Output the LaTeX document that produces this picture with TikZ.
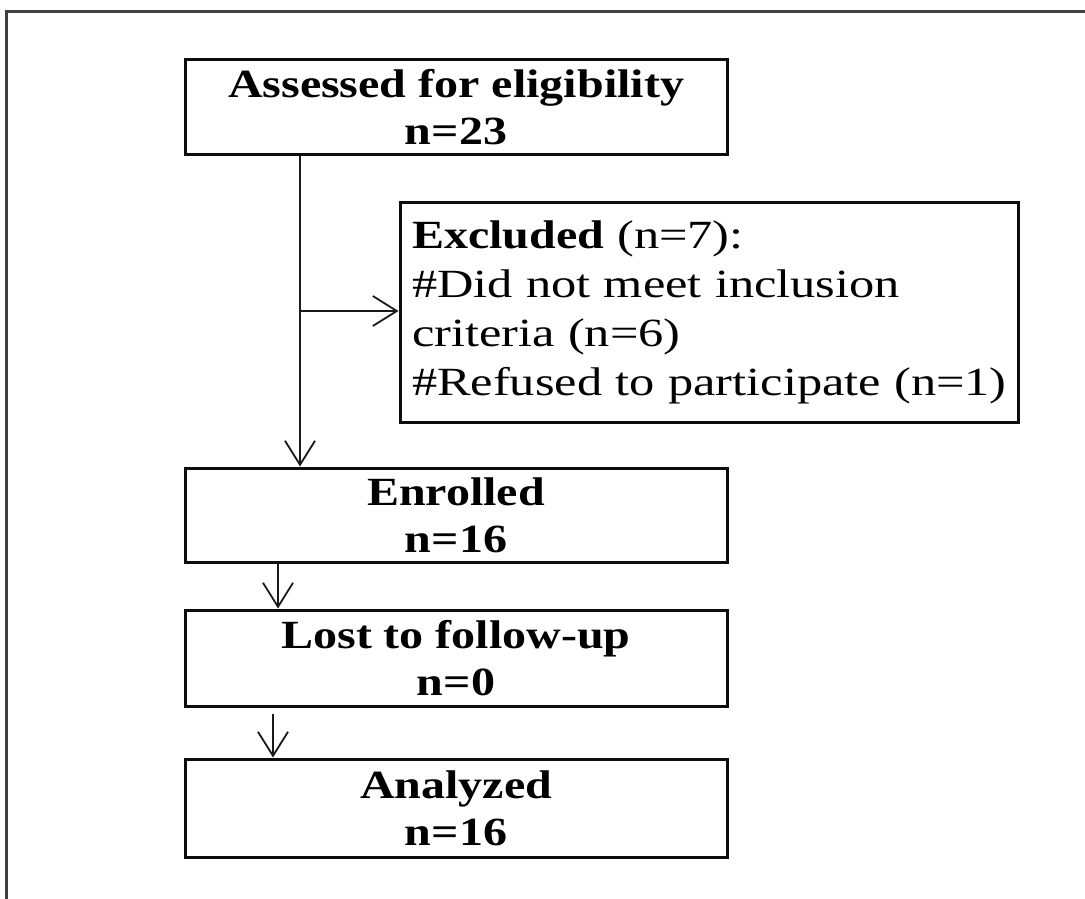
\documentclass[tikz,border=0pt]{standalone}
\usepackage{fontspec}
\setmainfont{Liberation Serif}[FakeStretch=1.2]
\newfontfamily\exclfont{Liberation Serif}[FakeStretch=1.26, BoldFeatures={FakeStretch=1.2}]
\usetikzlibrary{shapes, arrows.meta, calc, positioning}

\begin{document}
\begin{tikzpicture}[x=0.5pt, y=-0.5pt,
    flowbox/.style={draw=black!95, line width=1.5pt, rectangle, inner sep=3pt,
                    minimum width=271pt, align=center,
                    font=\fontsize{20}{23.5}\selectfont\bfseries},
    arr/.style={draw=black!90, line width=0.9pt, -{Straight Barb[length=12pt, width=15pt, line width=0.9pt]}}]
\useasboundingbox (0,0) rectangle (1085,898);
\begin{scope}
\clip (0,0) rectangle (1085,898);
\draw[black!75, line width=1.5pt] (6,12) rectangle (1100,920);
\end{scope}

\node[flowbox, minimum height=47.5pt] (assessed) at (456,107.5) {Assessed for eligibility\\n=23};
\node[flowbox, minimum width=309pt, minimum height=109.5pt, text width=297pt, align=left,
      inner sep=6pt, font=\fontsize{20}{24.4}\selectfont\exclfont] (excluded) at (709,312.5)
      {\mbox{\textbf{Excluded} (n=7):}\\\mbox{\#Did not meet inclusion}\\\mbox{criteria (n=6)}\\\mbox{\#Refused to participate (n=1)}};
\node[flowbox, minimum height=47pt] (enrolled) at (456,515) {Enrolled\\n=16};
\node[flowbox, minimum height=48pt] (lost) at (456,658) {Lost to follow-up\\n=0};
\node[flowbox, minimum height=49pt] (analyzed) at (456,808) {Analyzed\\n=16};

\coordinate (split) at (300,311);
\coordinate (e2l) at (278,0);
\coordinate (l2a) at (273,0);

\draw[arr] (assessed.south -| split) -- (enrolled.north -| split);
\draw[arr] (split) -- (split -| excluded.west);
\draw[arr] (enrolled.south -| e2l) -- (lost.north -| e2l);
\draw[arr, shorten <=3pt] (lost.south -| l2a) -- (analyzed.north -| l2a);
\end{tikzpicture}
\end{document}
